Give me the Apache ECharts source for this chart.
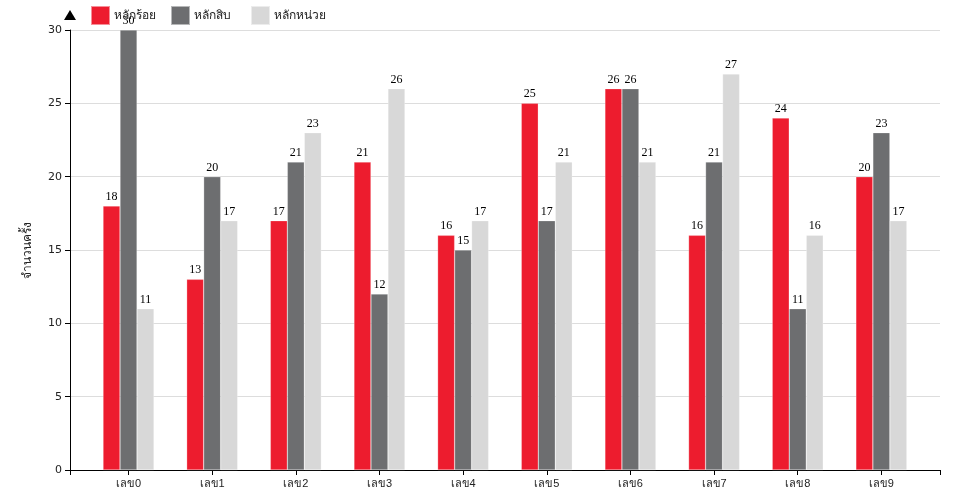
<!DOCTYPE html>
<html><head><meta charset="utf-8">
<script src="https://cdn.jsdelivr.net/npm/echarts@6/dist/echarts.min.js"></script>
<style>html,body{margin:0;padding:0;background:#fff}#c{width:960px;height:500px}</style>
</head><body><div id="c"></div>
<script>
var categories = ['เลข0','เลข1','เลข2','เลข3','เลข4','เลข5','เลข6','เลข7','เลข8','เลข9'];
var seriesNames = ['หลักร้อย','หลักสิบ','หลักหน่วย'];
var hundreds = [18,13,17,21,16,25,26,16,24,20];
var tens = [30,20,21,12,15,17,26,21,11,23];
var units = [11,17,23,26,17,21,21,27,16,17];
var yTicks = {min:0, max:30, interval:5};
var yTitle = 'จำนวนครั้ง';
var colors = ['#ED1C2E','#6D6E70','#D8D8D8'];

var chart = echarts.init(document.getElementById('c'));
function mk(name, data, color){
  return {name:name, type:'bar', data:data, xAxisIndex:1, yAxisIndex:1, barWidth:17, barGap:'0%',
    itemStyle:{color:color, borderColor:'rgba(255,255,255,0.5)', borderWidth:0.5},
    label:{show:true, position:'top', distance:3, color:'#000', fontFamily:'"Liberation Serif","Times New Roman",serif', fontSize:12},
    animation:false};
}
var legendLefts = [90,170,250];
var legends = seriesNames.map(function(n,i){
  return {left:legendLefts[i], top:5, padding:0, itemWidth:19, itemHeight:19, icon:'rect',
    textStyle:{fontSize:12, color:'#222', fontFamily:'sans-serif', padding:[0,0,0,-1]}, data:[n]};
});
chart.setOption({
  animation:false,
  color: colors,
  legend: legends,
  grid:[{left:70, right:20, top:30, bottom:30},{left:86.7, right:36.8, top:30, bottom:30}],
  xAxis:[{type:'value', gridIndex:0, min:0, max:1, interval:1,
    axisLine:{show:true, lineStyle:{color:'#000', width:1}},
    axisTick:{show:true, length:5, lineStyle:{color:'#000'}},
    axisLabel:{show:false}, splitLine:{show:false}},
   {type:'category', gridIndex:1, data:categories,
    axisLine:{show:false},
    axisTick:{show:true, alignWithLabel:true, length:5, lineStyle:{color:'#000'}},
    axisLabel:{color:'#222', fontSize:11, margin:8, fontFamily:'sans-serif'}}],
  yAxis:[{type:'value', gridIndex:0, min:yTicks.min, max:yTicks.max, interval:yTicks.interval,
    name:yTitle, nameLocation:'middle', nameGap:36, nameRotate:90,
    nameTextStyle:{fontSize:12, color:'#222', fontFamily:'sans-serif'},
    axisLine:{show:true, lineStyle:{color:'#000', width:1}, symbol:['none','triangle'], symbolSize:[12,10], symbolOffset:[0,15]},
    axisTick:{show:true, length:5, lineStyle:{color:'#000'}},
    axisLabel:{color:'#222', fontSize:11, margin:8, fontFamily:'"DejaVu Sans",sans-serif'},
    splitLine:{lineStyle:{color:'#dddddd'}}},
   {type:'value', gridIndex:1, min:yTicks.min, max:yTicks.max, interval:yTicks.interval, show:false, splitLine:{show:false}}],
  series:[mk(seriesNames[0],hundreds,colors[0]), mk(seriesNames[1],tens,colors[1]), mk(seriesNames[2],units,colors[2])]
});
</script></body></html>
